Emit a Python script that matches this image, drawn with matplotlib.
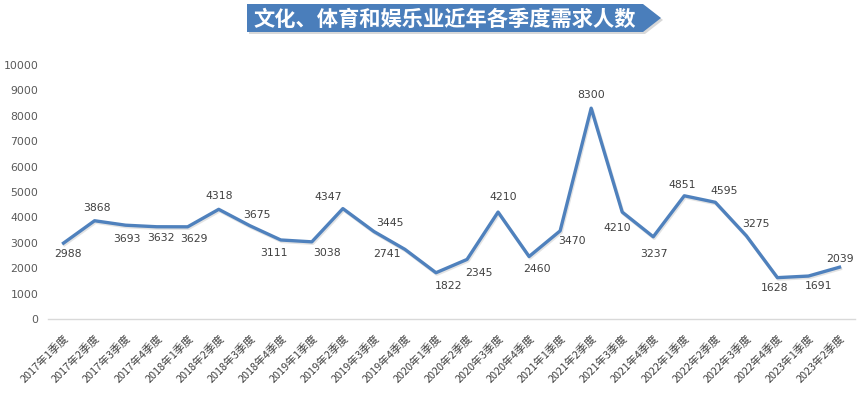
import matplotlib
matplotlib.use("Agg")
import matplotlib.pyplot as plt
from matplotlib.patches import Polygon

plt.rcParams['font.family'] = ['Noto Sans CJK SC', 'DejaVu Sans']

#------------------------------------------------------------------------------
# data
years    = [2017]*4 + [2018]*4 + [2019]*4 + [2020]*4 + [2021]*4 + [2022]*4 + [2023]*2
quarters = [1, 2, 3, 4]*6 + [1, 2]
demand   = [2988, 3868, 3693, 3632, 3629, 4318, 3675, 3111,
            3038, 4347, 3445, 2741, 1822, 2345, 4210, 2460,
            3470, 8300, 4210, 3237, 4851, 4595, 3275, 1628,
            1691, 2039]
y_ticks  = [0, 1000, 2000, 3000, 4000, 5000, 6000, 7000, 8000, 9000, 10000]
title    = "文化、体育和娱乐业近年各季度需求人数"

# label offsets (pixels) from each point, as placed in the reference
label_offsets = [(4, -11), (2, 13), (1, -14), (4, -11), (6, -12), (0, 13),
                 (7, 11), (-7, -13), (15, -11), (-15, 12), (16, 8), (-18, -5),
                 (13, -13), (12, -14), (5, 15), (8, -12), (12, -10), (0, 13),
                 (-5, -16), (1, -17), (-2, 11), (9, 11), (10, 12), (-3, -10),
                 (10, -10), (1, 8)]

LINE_COLOR = '#4F81BD'
TEXT_COLOR = '#404040'
AXIS_TEXT  = '#595959'

#------------------------------------------------------------------------------
fig = plt.figure(figsize=(8.66, 3.93), dpi=100)
ax = fig.add_axes([48/866, 1 - 319/393, (855-48)/866, (319-65)/393])

x = list(range(len(demand)))
ax.plot(x, demand, color='#C8C8C8', lw=2.4, alpha=0.5,
        transform=ax.transData + matplotlib.transforms.ScaledTranslation(1/100, -1.5/100, fig.dpi_scale_trans),
        solid_joinstyle='round', zorder=1)
ax.plot(x, demand, color=LINE_COLOR, lw=2.4, solid_joinstyle='round', zorder=2)

for xi, v, (dx, dy) in zip(x, demand, label_offsets):
    ax.annotate(str(v), (xi, v), xytext=(dx, dy), textcoords='offset pixels',
                ha='center', va='center', fontsize=7.8, color=TEXT_COLOR,
                family='DejaVu Sans')

ax.set_xlim(-0.5, len(demand) - 0.5)
ax.set_ylim(0, 10000)
ax.set_yticks(y_ticks)
ax.set_yticklabels([str(t) for t in y_ticks], fontsize=7.8, color=AXIS_TEXT,
                   family='DejaVu Sans')
ax.set_xticks(x)
xlabels = ['%d年%d季度' % (y, q) for y, q in zip(years, quarters)]
ax.set_xticklabels(xlabels, rotation=45, ha='right', va='top',
                   rotation_mode='anchor', fontsize=7.8, color=TEXT_COLOR)
ax.tick_params(axis='both', length=0)
ax.tick_params(axis='y', pad=7)
ax.tick_params(axis='x', pad=10)

for s in ['top', 'right', 'left']:
    ax.spines[s].set_visible(False)
ax.spines['bottom'].set_color('#D9D9D9')
ax.spines['bottom'].set_linewidth(1.0)

#------------------------------------------------------------------------------
# title banner: pentagon arrow shape
W, H = 866.0, 393.0
left, right, tip = 247, 643, 661
top, bot = 4, 32
mid = (top + bot) / 2
pts = [(left, top), (right, top), (tip, mid), (right, bot), (left, bot)]
shadow = Polygon([((px + 2) / W, 1 - (py + 2) / H) for px, py in pts],
                 closed=True, transform=fig.transFigure, facecolor='#BFBFBF',
                 edgecolor='none', alpha=0.6)
banner = Polygon([(px / W, 1 - py / H) for px, py in pts], closed=True,
                 transform=fig.transFigure, facecolor='#4A7EBB', edgecolor='none')
fig.patches.append(shadow)
fig.patches.append(banner)
fig.text(445 / W, 1 - (mid + 1) / H, title, ha='center', va='center',
         fontsize=15.3, fontweight='bold', color='white')

fig.savefig('out.png', dpi=100)
